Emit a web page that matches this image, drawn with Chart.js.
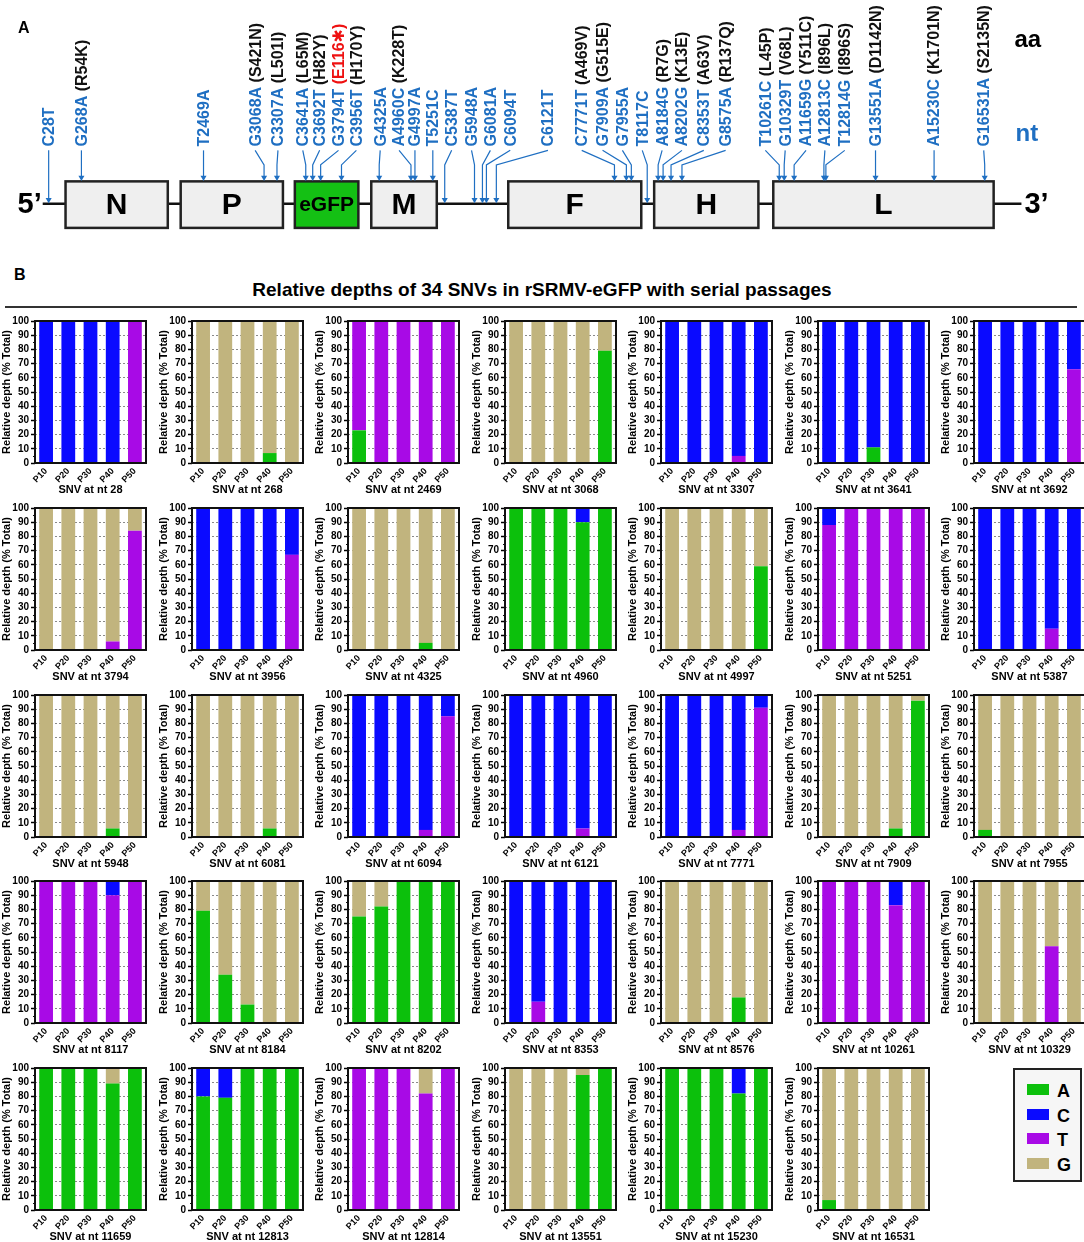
<!DOCTYPE html>
<html>
<head>
<meta charset="utf-8">
<script src="https://cdn.jsdelivr.net/npm/chart.js@4.4.0/dist/chart.umd.min.js"></script>
<style>
  body { margin: 0; background: #fff; font-family: "Liberation Sans", Arial, sans-serif; }
  #page { position: relative; width: 1084px; height: 1242px; overflow: hidden; }
  #genome { position: absolute; left: 0; top: 0; width: 1084px; height: 260px; }
  .cell { position: absolute; width: 150px; height: 186px; }
  #labelB { position: absolute; left: 14px; top: 266px; font-weight: bold; font-size: 16px; }
  #titleB { position: absolute; left: 0; width: 1084px; top: 279px; text-align: center; font-weight: bold; font-size: 19px; }
  #ruleB { position: absolute; left: 5px; width: 1072px; top: 306px; height: 2px; background: #333; }
  #legend { position: absolute; left: 1013px; top: 1068px; width: 65px; height: 110px; border: 2px solid #222; background: #f6f6f6; }
  .lg { position: absolute; left: 12px; height: 20px; font-weight: bold; font-size: 18px; line-height: 20px; }
  .lg span { display: inline-block; width: 22px; height: 11px; margin-right: 8px; vertical-align: 2px; }
</style>
</head>
<body>
<div id="page">
  <div id="genome"><canvas id="genomeCanvas"></canvas></div>
  <div id="labelB">B</div>
  <div id="titleB">Relative depths of 34 SNVs in rSRMV-eGFP with serial passages</div>
  <div id="ruleB"></div>
  <div id="legend"></div>
</div>
<script>
// ---- panel B data ----
const passages = ['P10', 'P20', 'P30', 'P40', 'P50'];
const baseNames = ['A', 'C', 'T', 'G'];
const baseColors = { A: '#0cc00c', C: '#0a0aff', T: '#a80ae6', G: '#c1b47e' };

const snvSites = [28, 268, 2469, 3068, 3307, 3641, 3692,
  3794, 3956, 4325, 4960, 4997, 5251, 5387,
  5948, 6081, 6094, 6121, 7771, 7909, 7955,
  8117, 8184, 8202, 8353, 8576, 10261, 10329,
  11659, 12813, 12814, 13551, 15230, 16531];

// % of reads per base at P10..P50, one row per SNV (same order as snvSites)
const depthA = [
  [0,0,0,0,0], [0,0,0,7,0], [23,0,0,0,0], [0,0,0,0,79], [0,0,0,0,0], [0,0,11,0,0], [0,0,0,0,0],
  [0,0,0,0,0], [0,0,0,0,0], [0,0,0,5,0], [100,100,100,90,100], [0,0,0,0,59], [0,0,0,0,0], [0,0,0,0,0],
  [0,0,0,6,0], [0,0,0,6,0], [0,0,0,0,0], [0,0,0,0,0], [0,0,0,0,0], [0,0,0,6,96], [5,0,0,0,0],
  [0,0,0,0,0], [79,34,13,0,0], [75,82,100,100,100], [0,0,0,0,0], [0,0,0,18,0], [0,0,0,0,0], [0,0,0,0,0],
  [100,100,100,89,100], [80,79,100,100,100], [0,0,0,0,0], [0,0,0,95,100], [100,100,100,82,100], [7,0,0,0,0]
];
const depthT = [
  [0,0,0,0,100], [0,0,0,0,0], [77,100,100,100,100], [0,0,0,0,0], [0,0,0,5,0], [0,0,0,0,0], [0,0,0,0,66],
  [0,0,0,6,84], [0,0,0,0,67], [0,0,0,0,0], [0,0,0,0,0], [0,0,0,0,0], [88,100,100,100,100], [0,0,0,15,0],
  [0,0,0,0,0], [0,0,0,0,0], [0,0,0,5,85], [0,0,0,6,0], [0,0,0,5,91], [0,0,0,0,0], [0,0,0,0,0],
  [100,100,100,90,100], [0,0,0,0,0], [0,0,0,0,0], [0,15,0,0,0], [0,0,0,0,0], [100,100,100,83,100], [0,0,0,54,0],
  [0,0,0,0,0], [0,0,0,0,0], [100,100,100,82,100], [0,0,0,0,0], [0,0,0,0,0], [0,0,0,0,0]
];
const depthC = [
  [100,100,100,100,0], [0,0,0,0,0], [0,0,0,0,0], [0,0,0,0,0], [100,100,100,95,100], [100,100,89,100,100], [100,100,100,100,34],
  [0,0,0,0,0], [100,100,100,100,33], [0,0,0,0,0], [0,0,0,10,0], [0,0,0,0,0], [12,0,0,0,0], [100,100,100,85,100],
  [0,0,0,0,0], [0,0,0,0,0], [100,100,100,95,15], [100,100,100,94,100], [100,100,100,95,9], [0,0,0,0,0], [0,0,0,0,0],
  [0,0,0,10,0], [0,0,0,0,0], [0,0,0,0,0], [100,85,100,100,100], [0,0,0,0,0], [0,0,0,17,0], [0,0,0,0,0],
  [0,0,0,0,0], [20,21,0,0,0], [0,0,0,0,0], [0,0,0,0,0], [0,0,0,18,0], [0,0,0,0,0]
];
const depthG = [
  [0,0,0,0,0], [100,100,100,93,100], [0,0,0,0,0], [100,100,100,100,21], [0,0,0,0,0], [0,0,0,0,0], [0,0,0,0,0],
  [100,100,100,94,16], [0,0,0,0,0], [100,100,100,95,100], [0,0,0,0,0], [100,100,100,100,41], [0,0,0,0,0], [0,0,0,0,0],
  [100,100,100,94,100], [100,100,100,94,100], [0,0,0,0,0], [0,0,0,0,0], [0,0,0,0,0], [100,100,100,94,4], [95,100,100,100,100],
  [0,0,0,0,0], [21,66,87,100,100], [25,18,0,0,0], [0,0,0,0,0], [100,100,100,82,100], [0,0,0,0,0], [100,100,100,46,100],
  [0,0,0,11,0], [0,0,0,0,0], [0,0,0,18,0], [100,100,100,5,0], [0,0,0,0,0], [93,100,100,100,100]
];

// ---- panel A data ----
const genes = ['N', 'P', 'eGFP', 'M', 'F', 'H', 'L'];
const ntChanges = ['C28T', 'G268A', 'T2469A', 'G3068A', 'C3307A', 'C3641A', 'C3692T', 'G3794T', 'C3956T',
  'G4325A', 'A4960C', 'G4997A', 'T5251C', 'C5387T', 'G5948A', 'G6081A', 'C6094T', 'C6121T',
  'C7771T', 'G7909A', 'G7955A', 'T8117C', 'A8184G', 'A8202G', 'C8353T', 'G8575A',
  'T10261C', 'G10329T', 'A11659G', 'A12813C', 'T12814G', 'G13551A', 'A15230C', 'G16531A'];
const aaChanges = ['', 'R54K', '', 'S421N', 'L501I', 'L65M', 'H82Y', 'E116\u2731', 'H170Y',
  '', 'K228T', '', '', '', '', '', '', '',
  'A469V', 'G515E', '', '', 'R7G', 'K13E', 'A63V', 'R137Q',
  'L45P', 'V68L', 'Y511C', 'I896L', 'I896S', 'D1142N', 'K1701N', 'S2135N'];

// diagram layout (not data): gene box spans, label and arrow x positions
const geneSpan = [[62, 165], [178, 281], [293, 357], [370, 436], [508, 642], [655, 760], [775, 997]];
const labelX = [45, 78, 201, 253, 276, 301, 318, 337, 355, 379, 398, 414, 432, 451, 471, 490, 510, 548,
  582, 603, 623, 643, 663, 683, 705, 727, 767, 787, 808, 827, 847, 878, 937, 987];
const tipX = [45, 78, 201, 262, 275, 304, 311, 319, 340, 378, 410, 414, 432, 444, 474, 482, 486, 496,
  615, 627, 632, 648, 659, 664, 672, 683, 781, 786, 796, 826, 828, 878, 937, 988];
const toBackbone = [0, 13, 14, 15, 16, 17, 21];

const FONT = '"Liberation Sans", Arial, "DejaVu Sans", sans-serif';
const BLUE = '#1f6fc2';
const BOX_TOP = 183, BOX_BOT = 231, LINE_Y = 206, LABEL_Y = 147;
const tipY = tipX.map((_, i) => toBackbone.includes(i) ? LINE_Y - 1 : BOX_TOP - 1);

const genomePlugin = {
  id: 'genome',
  beforeDatasetsDraw(chart) {
    const { ctx, scales: { x, y } } = chart;
    const px = v => x.getPixelForValue(v), py = v => y.getPixelForValue(v);
    ctx.save();
    // backbone
    ctx.strokeStyle = '#111'; ctx.lineWidth = 2.5;
    ctx.beginPath(); ctx.moveTo(px(39), py(LINE_Y)); ctx.lineTo(px(1025), py(LINE_Y)); ctx.stroke();
    // gene boxes
    genes.forEach((g, i) => {
      const [a, b] = geneSpan[i];
      ctx.fillStyle = g === 'eGFP' ? '#14c014' : '#efefef';
      ctx.fillRect(px(a), py(BOX_TOP), px(b) - px(a), py(BOX_BOT) - py(BOX_TOP));
      ctx.strokeStyle = '#222'; ctx.lineWidth = 2.5;
      ctx.strokeRect(px(a), py(BOX_TOP), px(b) - px(a), py(BOX_BOT) - py(BOX_TOP));
      ctx.fillStyle = '#000';
      ctx.font = (g === 'eGFP' ? 'bold 21px ' : 'bold 30px ') + FONT;
      ctx.textAlign = 'center'; ctx.textBaseline = 'middle';
      ctx.fillText(g, px((a + b) / 2), py((BOX_TOP + BOX_BOT) / 2) + 1);
    });
    // ends
    ctx.font = 'bold 29px ' + FONT; ctx.fillStyle = '#000'; ctx.textBaseline = 'middle';
    ctx.textAlign = 'right'; ctx.fillText('5\u2019', px(38), py(LINE_Y) + 1);
    ctx.textAlign = 'left'; ctx.fillText('3\u2019', px(1028), py(LINE_Y) + 1);
    // arrow shafts
    ctx.strokeStyle = BLUE; ctx.lineWidth = 1.2;
    ntChanges.forEach((_, i) => {
      ctx.beginPath();
      ctx.moveTo(px(labelX[i]), py(LABEL_Y + 4));
      ctx.lineTo(px(tipX[i]), py(166));
      ctx.lineTo(px(tipX[i]), py(tipY[i] - 4));
      ctx.stroke();
    });
    // rotated labels
    ntChanges.forEach((nt, i) => {
      ctx.save();
      ctx.translate(px(labelX[i]), py(LABEL_Y));
      ctx.rotate(-Math.PI / 2);
      ctx.font = 'bold 16px ' + FONT; ctx.textAlign = 'left'; ctx.textBaseline = 'middle';
      ctx.fillStyle = BLUE;
      ctx.fillText(nt, 0, 1);
      if (aaChanges[i]) {
        const w = ctx.measureText(nt + ' ').width;
        ctx.fillStyle = aaChanges[i].includes('\u2731') ? '#ee1111' : '#111';
        ctx.fillText('(' + aaChanges[i] + ')', w, 1);
      }
      ctx.restore();
    });
    // side captions
    ctx.font = 'bold 24px ' + FONT; ctx.textAlign = 'left'; ctx.textBaseline = 'middle';
    ctx.fillStyle = '#000'; ctx.fillText('aa', px(1018), py(38));
    ctx.fillStyle = BLUE; ctx.fillText('nt', px(1019), py(134));
    ctx.font = 'bold 16px ' + FONT; ctx.fillStyle = '#000';
    ctx.fillText('A', px(14), py(25));
    ctx.restore();
  }
};

new Chart(document.getElementById('genomeCanvas'), {
  type: 'scatter',
  data: {
    datasets: [{
      data: tipX.map((v, i) => ({ x: v, y: tipY[i] - 3 })),
      pointStyle: 'triangle', rotation: 180, radius: 3.5,
      backgroundColor: BLUE, borderColor: BLUE, borderWidth: 0, clip: false
    }]
  },
  options: {
    responsive: true, maintainAspectRatio: false, animation: false,
    layout: { padding: 0 },
    plugins: { legend: { display: false }, tooltip: { enabled: false } },
    scales: {
      x: { type: 'linear', min: 0, max: 1084, display: false },
      y: { type: 'linear', min: 0, max: 260, reverse: true, display: false }
    }
  },
  plugins: [genomePlugin]
});

// ---- panel B small charts ----
const frame = {
  id: 'frame',
  afterDatasetsDraw(chart) {
    const { ctx, chartArea: a } = chart;
    ctx.save();
    ctx.strokeStyle = '#111'; ctx.lineWidth = 2;
    ctx.strokeRect(a.left, a.top, a.right - a.left, a.bottom - a.top);
    // minor ticks on the y axis
    const y = chart.scales.y;
    ctx.lineWidth = 1;
    for (let v = 5; v < 100; v += 10) {
      const py = Math.round(y.getPixelForValue(v)) + 0.5;
      ctx.beginPath(); ctx.moveTo(a.left - 2, py); ctx.lineTo(a.left, py); ctx.stroke();
    }
    ctx.restore();
  }
};

const rowTops = [321, 508, 695, 881, 1068];
const stackOrder = [['A', depthA], ['T', depthT], ['C', depthC], ['G', depthG]];
const page = document.getElementById('page');

snvSites.forEach((site, i) => {
  const col = i % 7, row = Math.floor(i / 7);
  const wrap = document.createElement('div');
  wrap.className = 'cell';
  wrap.style.left = (156.5 * col) + 'px';
  wrap.style.top = (rowTops[row] - 8) + 'px';
  const cv = document.createElement('canvas');
  wrap.appendChild(cv);
  page.appendChild(wrap);

  new Chart(cv, {
    type: 'bar',
    data: {
      labels: passages,
      datasets: stackOrder.map(([b, arr]) => ({
        label: b, data: arr[i].slice(), backgroundColor: baseColors[b], borderWidth: 0
      }))
    },
    options: {
      responsive: true, maintainAspectRatio: false, animation: false,
      layout: { padding: { top: 8, right: 4, left: 0, bottom: 0 } },
      plugins: { legend: { display: false }, tooltip: { enabled: false } },
      datasets: { bar: { categoryPercentage: 0.62, barPercentage: 1 } },
      scales: {
        x: {
          stacked: true,
          grid: { display: false, drawTicks: false, tickLength: 0 },
          border: { display: false },
          ticks: { color: '#000', font: { family: FONT, size: 9, weight: 'bold' }, minRotation: 45, maxRotation: 45, padding: 3 },
          title: { display: true, text: 'SNV at nt ' + site, color: '#000', font: { family: FONT, size: 11, weight: 'bold' }, padding: { top: 0, bottom: 2 } },
          afterFit: s => { s.height = 36; }
        },
        y: {
          stacked: true, min: 0, max: 100,
          ticks: { stepSize: 10, autoSkip: false, color: '#000', font: { family: FONT, size: 10, weight: 'bold' }, padding: 2 },
          grid: { color: '#8a8a8a', lineWidth: 1, tickColor: '#000', tickLength: 4, tickWidth: 1.5 },
          border: { display: false, dash: [2, 2] },
          title: { display: true, text: 'Relative depth (% Total)', color: '#000', font: { family: FONT, size: 11, weight: 'bold' }, padding: { top: 0, bottom: 1 } },
          afterFit: s => { s.width = 35; }
        }
      }
    },
    plugins: [frame]
  });
});

// legend
const legend = document.getElementById('legend');
baseNames.forEach((b, k) => {
  const d = document.createElement('div');
  d.className = 'lg';
  d.style.top = (11 + k * 24.5) + 'px';
  d.innerHTML = '<span style="background:' + baseColors[b] + '"></span>' + b;
  legend.appendChild(d);
});
</script>
</body>
</html>
